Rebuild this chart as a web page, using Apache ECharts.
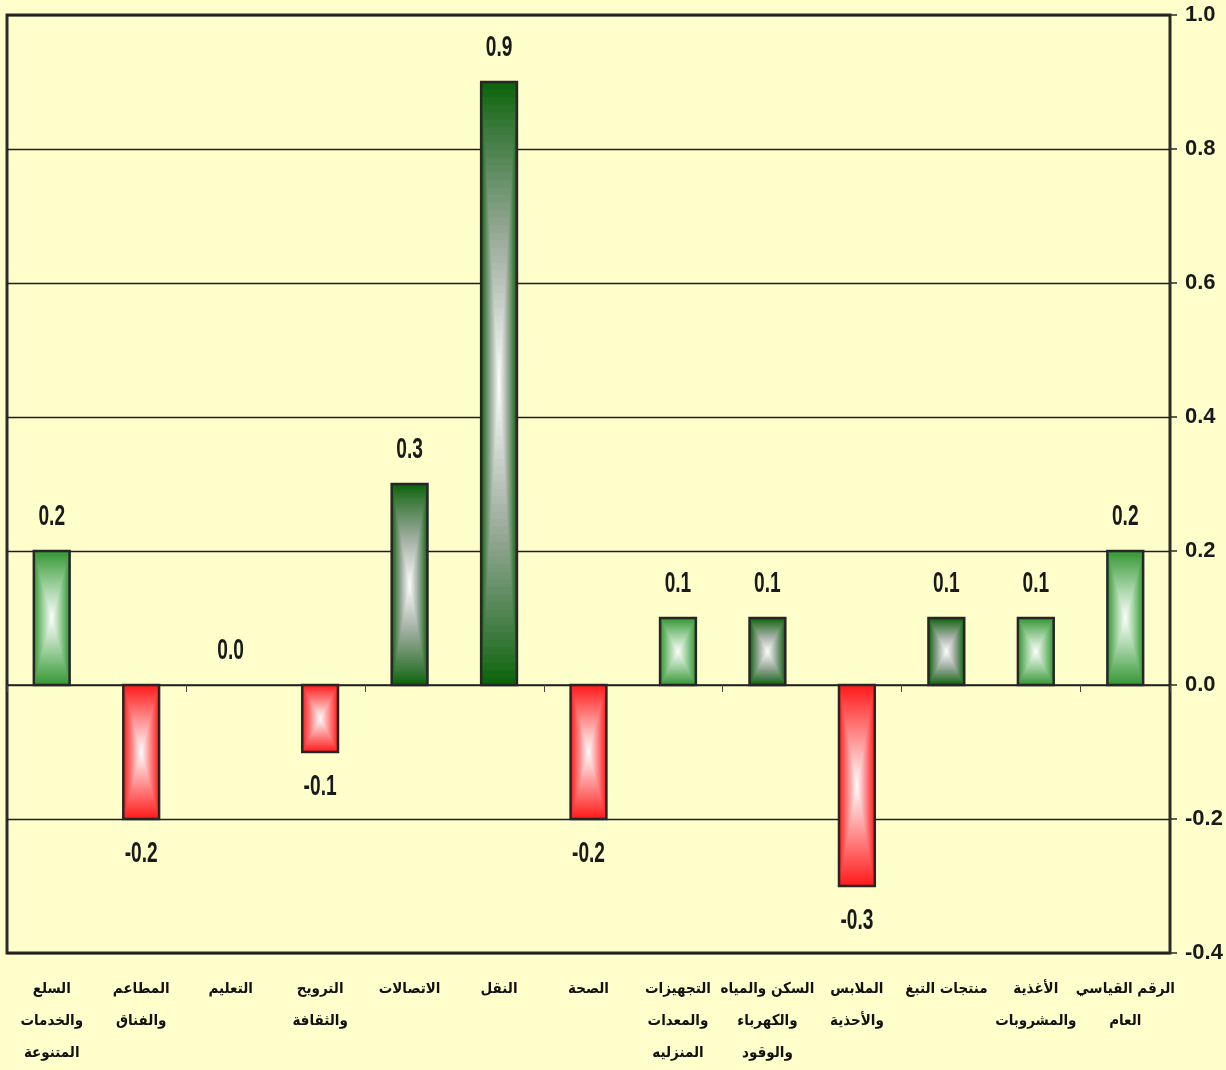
<!DOCTYPE html>
<html>
<head>
<meta charset="utf-8">
<script src="https://cdn.jsdelivr.net/npm/echarts@6/dist/echarts.min.js"></script>
<style>
  html, body { margin: 0; padding: 0; background: #ffffcc; }
  #chart { width: 1226px; height: 1070px; }
</style>
</head>
<body>
<div id="chart"></div>
<script>
// categories, left to right as in the picture
var categories = [
    'السلع\nوالخدمات\nالمتنوعة',
    'المطاعم\nوالفناق',
    'التعليم',
    'الترويح\nوالثقافة',
    'الاتصالات',
    'النقل',
    'الصحة',
    'التجهيزات\nوالمعدات\nالمنزليه',
    'السكن والمياه\nوالكهرباء\nوالوقود',
    'الملابس\nوالأحذية',
    'منتجات التبغ',
    'الأغذية\nوالمشروبات',
    'الرقم القياسي\nالعام'
];
var values = [0.2, -0.2, 0.0, -0.1, 0.3, 0.9, -0.2, 0.1, 0.1, -0.3, 0.1, 0.1, 0.2];
var yTicks = [-0.4, -0.2, 0.0, 0.2, 0.4, 0.6, 0.8, 1.0];

// bar shading (box gradient, edge -> centre)
var darkGreen = [[0, '#0d660d'], [0.15, '#3d7a3d'], [0.55, '#a5b1a5'], [1, '#ffffff']];
var midGreen = [[0, '#369836'], [0.5, '#9dcf9d'], [1, '#ffffff']];
var red = [[0, '#ff1c1c'], [0.5, '#ff8e8e'], [1, '#ffffff']];
var darkBars = [4, 5, 8, 10];

function hex(c) {
    return [parseInt(c.substr(1, 2), 16), parseInt(c.substr(3, 2), 16), parseInt(c.substr(5, 2), 16)];
}
function mix(stops, t) {
    for (var k = 1; k < stops.length; k++) {
        if (t <= stops[k][0]) {
            var a = hex(stops[k - 1][1]), b = hex(stops[k][1]);
            var f = (t - stops[k - 1][0]) / (stops[k][0] - stops[k - 1][0]);
            return 'rgb(' + a.map(function (x, j) { return Math.round(x + (b[j] - x) * f); }).join(',') + ')';
        }
    }
    return stops[stops.length - 1][1];
}

var chart = echarts.init(document.getElementById('chart'));

var sans = "'Liberation Sans', Arial, sans-serif";

chart.setOption({
    backgroundColor: '#ffffcc',
    animation: false,
    grid: {
        left: 7,
        right: 56,
        top: 15,
        bottom: 117,
        show: true,
        backgroundColor: '#ffffcc',
        borderColor: '#2b2b2b',
        borderWidth: 3
    },
    xAxis: [
        {
            // zero line with boundary ticks
            type: 'category',
            data: categories,
            axisLine: { onZero: true, lineStyle: { color: '#222', width: 1.5 } },
            axisTick: { show: true, length: 7, lineStyle: { color: '#444', width: 1 } },
            axisLabel: { show: false }
        },
        {
            type: 'category',
            data: categories,
            position: 'bottom',
            axisLine: { show: false },
            axisTick: { show: false },
            axisLabel: {
                interval: 0,
                margin: 20,
                color: '#111',
                fontFamily: "'DejaVu Sans Condensed', 'DejaVu Sans', sans-serif",
                fontWeight: 'bold',
                fontSize: 15,
                lineHeight: 32,
                align: 'center'
            }
        }
    ],
    yAxis: {
        type: 'value',
        position: 'right',
        min: yTicks[0],
        max: yTicks[yTicks.length - 1],
        interval: 0.2,
        axisLine: { show: true, lineStyle: { color: '#2b2b2b', width: 2 } },
        axisTick: { show: true, length: 7, lineStyle: { color: '#2b2b2b', width: 1.5 } },
        splitLine: { show: true, lineStyle: { color: '#1e1e1e', width: 1.3 } },
        axisLabel: {
            margin: 15,
            color: '#1a1a1a',
            fontFamily: sans,
            fontWeight: 'bold',
            fontSize: 22,
            formatter: function (v) { return v.toFixed(1); }
        }
    },
    series: [
        {
            type: 'custom',
            xAxisIndex: 0,
            z: 3,
            data: values.map(function (v, i) { return [i, v]; }),
            renderItem: function (params, api) {
                var i = api.value(0), v = api.value(1);
                var base = api.coord([i, 0]);
                var tip = api.coord([i, v]);
                var w = api.size([1, 0])[0] * 0.4;
                var x = base[0] - w / 2;
                var y = Math.min(base[1], tip[1]);
                var h = Math.abs(tip[1] - base[1]);
                var children = [];
                if (h >= 0.5) {
                    var stops = v < 0 ? red : (darkBars.indexOf(i) >= 0 ? darkGreen : midGreen);
                    var n = 40;
                    for (var k = 0; k < n; k++) {
                        var t = k / n;
                        var dx = t * w / 2, dy = t * h / 2;
                        children.push({
                            type: 'rect',
                            shape: { x: x + dx, y: y + dy, width: w - 2 * dx, height: h - 2 * dy },
                            style: { fill: mix(stops, t) }
                        });
                    }
                    children.push({
                        type: 'rect',
                        shape: { x: x, y: y, width: w, height: h },
                        style: { fill: 'none', stroke: '#262626', lineWidth: 2.5 }
                    });
                }
                // value label, condensed like the original narrow bold face
                children.push({
                    type: 'text',
                    x: base[0],
                    y: v < 0 ? tip[1] + 20 : tip[1] - 20,
                    scaleX: 0.66,
                    style: {
                        text: v.toFixed(1),
                        align: 'center',
                        verticalAlign: v < 0 ? 'top' : 'bottom',
                        fill: '#1a1a1a',
                        font: 'bold 29px ' + sans
                    }
                });
                return { type: 'group', children: children };
            }
        }
    ]
});
</script>
</body>
</html>
